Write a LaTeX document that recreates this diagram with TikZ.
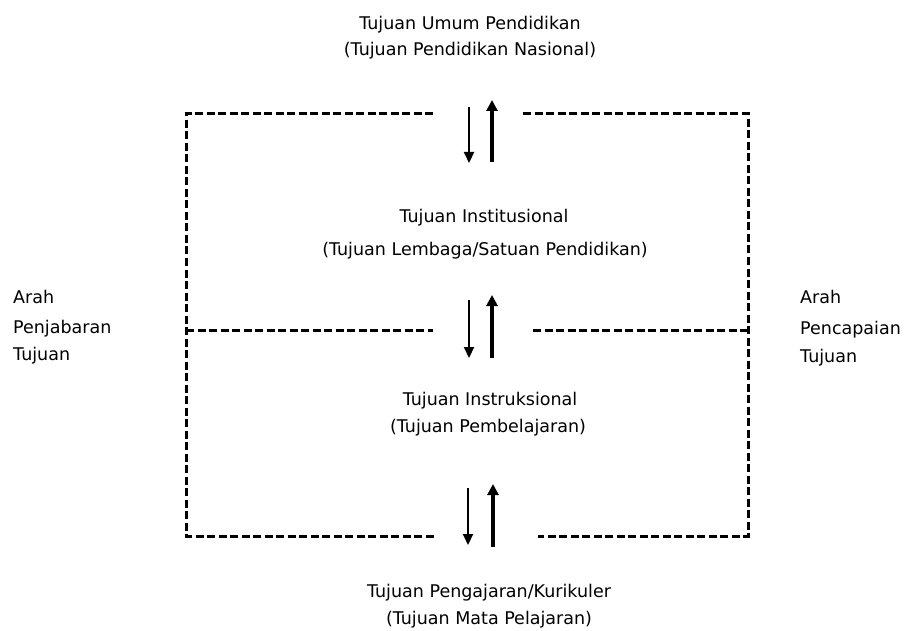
\documentclass[tikz,border=0pt]{standalone}
\usepackage{fontspec}
\setmainfont{DejaVu Sans}
\usetikzlibrary{arrows.meta}

\tikzset{
  frame/.style={line width=3pt,dash pattern=on 8pt off 3.5pt},
  downarr/.style={line width=2.2pt,-{Triangle[width=10pt,length=11pt]}},
  uparr/.style={line width=3.6pt,-{Triangle[width=11pt,length=11pt]}},
  lbl/.style={anchor=base,inner sep=0pt,font=\fontsize{17.5}{20}\selectfont},
  side/.style={lbl,anchor=base west}
}

\begin{document}
\begin{tikzpicture}[x=1pt,y=-1pt]
  \useasboundingbox (0,0) rectangle (905,631);

  % levels
  \node[lbl] (umum) at (470,30) {Tujuan Umum Pendidikan};
  \node[lbl] (umumb) at (470,56) {(Tujuan Pendidikan Nasional)};
  \node[lbl] (inst) at (484,223) {Tujuan Institusional};
  \node[lbl] (instb) at (485,255) {(Tujuan Lembaga/Satuan Pendidikan)};
  \node[lbl] (instr) at (490,405) {Tujuan Instruksional};
  \node[lbl] (instrb) at (488,432) {(Tujuan Pembelajaran)};
  \node[lbl] (kur) at (489,597) {Tujuan Pengajaran/Kurikuler};
  \node[lbl] (kurb) at (489,624) {(Tujuan Mata Pelajaran)};

  % sides
  \node[side] (la) at (13,303) {Arah};
  \node[side] (lb) at (13,333) {Penjabaran};
  \node[side] (lc) at (13,360) {Tujuan};
  \node[side] (ra) at (800,303) {Arah};
  \node[side] (rb) at (800,334) {Pencapaian};
  \node[side] (rc) at (800,362) {Tujuan};

  % frame
  \coordinate (tl) at (186,114);
  \coordinate (tm1) at (433,114);
  \coordinate (tm2) at (523,114);
  \coordinate (tr) at (748,114);
  \coordinate (ml) at (186,330);
  \coordinate (mm1) at (433,330);
  \coordinate (mm2) at (533,330);
  \coordinate (mr) at (748,330);
  \coordinate (bl) at (186,536);
  \coordinate (bm1) at (434,536);
  \coordinate (bm2) at (538,536);
  \coordinate (br) at (748,536);

  \draw[frame] (tm1) -- (tl) -- (bl) -- (bm1);
  \draw[frame] (tm2) -- (tr) -- (br) -- (bm2);
  \draw[frame] (ml) -- (mm1);
  \draw[frame] (mm2) -- (mr);

  % arrows
  \coordinate (d1a) at (469,107);
  \coordinate (d1b) at (469,163);
  \coordinate (u1a) at (492,162);
  \coordinate (u1b) at (492,100);
  \coordinate (d2a) at (469,300);
  \coordinate (d2b) at (469,358);
  \coordinate (u2a) at (492,358);
  \coordinate (u2b) at (492,295);
  \coordinate (d3a) at (468,488);
  \coordinate (d3b) at (468,545);
  \coordinate (u3a) at (493,547);
  \coordinate (u3b) at (493,484);

  \draw[downarr] (d1a) -- (d1b);
  \draw[uparr] (u1a) -- (u1b);
  \draw[downarr] (d2a) -- (d2b);
  \draw[uparr] (u2a) -- (u2b);
  \draw[downarr] (d3a) -- (d3b);
  \draw[uparr] (u3a) -- (u3b);
\end{tikzpicture}
\end{document}
